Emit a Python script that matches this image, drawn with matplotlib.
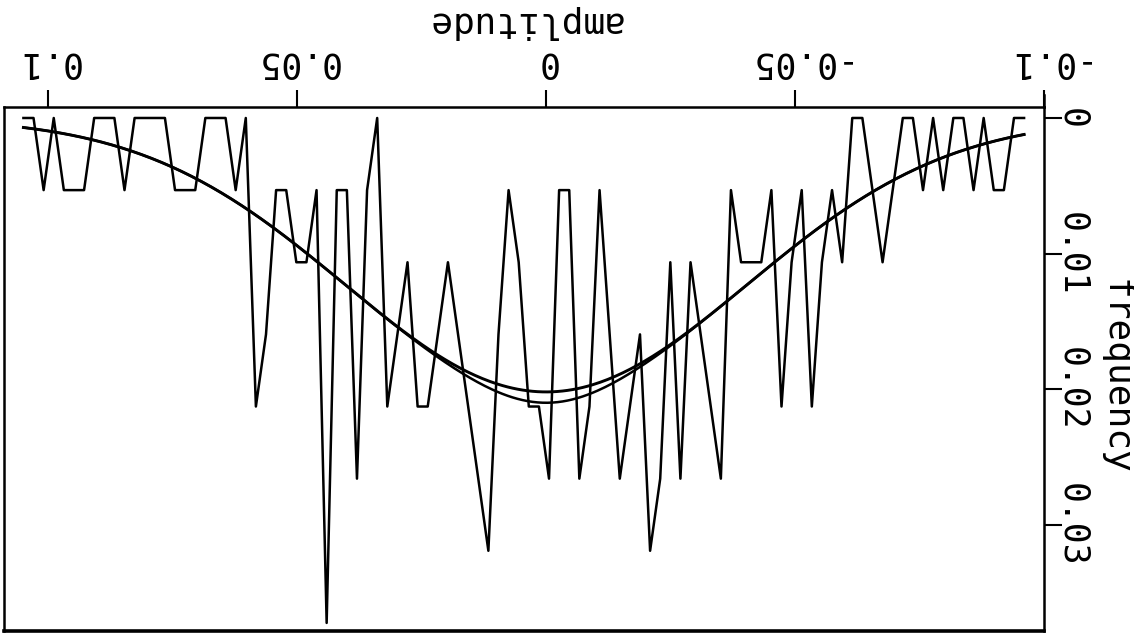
import matplotlib.pyplot as plt
import numpy as np

# histogram of amplitudes (counts per bin) and two fitted curves
n_samples = 188
amp_first = 0.105
amp_last = -0.096
counts = [0, 0, 1, 0, 1, 1, 1, 0, 0, 0,
          1, 0, 0, 0, 0, 1, 1, 1, 0, 0,
          0, 1, 0, 4, 3, 1, 1, 2, 2, 1,
          7, 1, 1, 5, 1, 0, 4, 3, 2, 4,
          4, 3, 2, 3, 4, 5, 6, 3, 1, 2,
          4, 4, 5, 1, 1, 5, 4, 1, 3, 5,
          4, 3, 6, 5, 2, 5, 2, 3, 4, 5,
          1, 2, 2, 2, 1, 4, 2, 1, 4, 2,
          1, 2, 0, 0, 1, 2, 1, 0, 0, 1,
          0, 1, 0, 0, 1, 0, 1, 1, 0, 0]
fit_mean = 0.0
fit_sigma = 0.0405
fit_peak = 0.0202
# second fit: same shape on the flanks, a bit deeper in the middle
fit2_extra = 0.0008
fit2_extra_sigma = 0.012

xticks = [0.1, 0.05, 0, -0.05, -0.1]
xticklabels = ['0.1', '0.05', '0', '-0.05', '-0.1']
yticks = [0, 0.01, 0.02, 0.03]
yticklabels = ['0', '0.01', '0.02', '0.03']

amplitude = np.linspace(amp_first, amp_last, len(counts))
frequency = np.array(counts) / n_samples

xs = np.linspace(amp_first, amp_last, 400)
fit1 = fit_peak * np.exp(-(xs - fit_mean) ** 2 / (2 * fit_sigma ** 2))
fit2 = fit1 + fit2_extra * np.exp(-(xs - fit_mean) ** 2 / (2 * fit2_extra_sigma ** 2))

fig = plt.figure(figsize=(11.34, 6.35), dpi=100)
ax = fig.add_axes([4 / 1134, 4 / 635, 1040 / 1134, 524 / 635])

ax.plot(amplitude, frequency, color='black', lw=1.8)
ax.plot(xs, fit1, color='black', lw=2.1)
ax.plot(xs, fit2, color='black', lw=1.8)

# the picture is the usual plot turned upside down
ax.set_xlim(0.1089, -0.1)
ax.set_ylim(0.03783, -0.00081)

mono = 'DejaVu Sans Mono'
ax.xaxis.tick_top()
ax.yaxis.tick_right()
ax.set_xticks(xticks)
ax.set_xticklabels(xticklabels, rotation=180, family=mono, fontsize=25)
ax.set_yticks(yticks)
ax.set_yticklabels(yticklabels, rotation=270, va='center', family=mono, fontsize=25)
ax.tick_params(axis='x', direction='out', length=12, width=1.5, pad=8)
ax.tick_params(axis='y', direction='out', length=13, width=1.5, pad=-5)

ax.set_xlabel('amplitude', rotation=180, family=mono, fontsize=26, ha='center', va='center')
ax.xaxis.set_label_coords(0.5, 1 + 85 / 524)
ax.set_ylabel('frequency', rotation=270, family=mono, fontsize=26, ha='center', va='center')
ax.yaxis.set_label_coords(1 + 72 / 1040, 0.5 - 8 / 524)

for side in ['left', 'top', 'right']:
    ax.spines[side].set_linewidth(1.8)
ax.spines['bottom'].set_linewidth(2.6)
# right axis line runs a little past the frame top
ax.plot([1, 1], [1, 1.023], transform=ax.transAxes, color='black', lw=1.8, clip_on=False)

fig.savefig('out.png', dpi=100)
